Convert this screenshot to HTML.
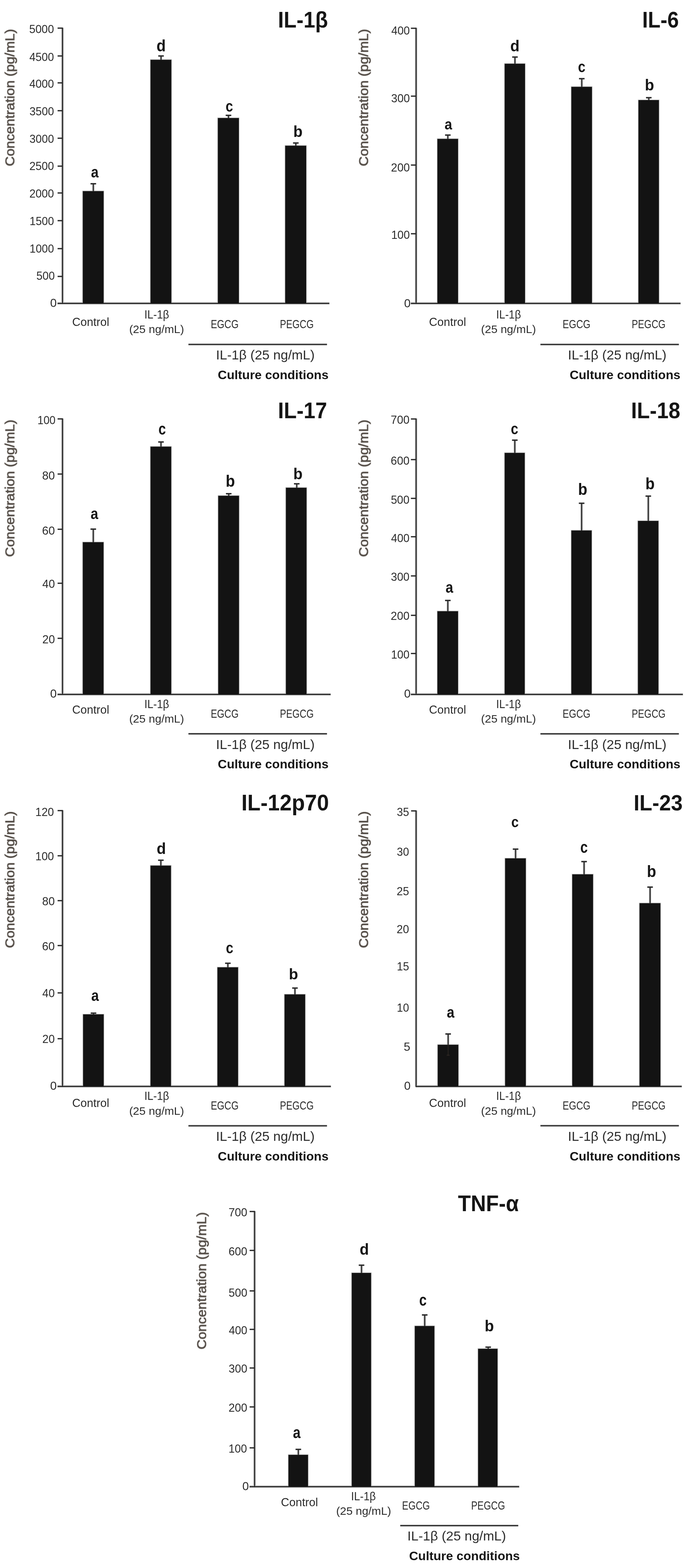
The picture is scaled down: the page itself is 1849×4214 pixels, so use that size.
<!DOCTYPE html>
<html lang="en">
<head>
<meta charset="utf-8">
<title>Cytokine concentrations</title>
<style>
html,body{margin:0;padding:0;background:#fff;}
body{width:1849px;height:4214px;overflow:hidden;}
svg{display:block;font-family:"Liberation Sans", sans-serif;}
.sh{filter:blur(0.5px);}
.tx{filter:blur(0.45px);}
text{white-space:pre;}
</style>
</head>
<body>
<svg width="1849" height="4214" viewBox="0 0 1849 4214">
<rect width="1849" height="4214" fill="#ffffff"/>
<g class="sh">
<rect x="165.15" y="74.60" width="5.70" height="741.50" fill="#989898"/>
<rect x="154.40" y="812.25" width="731.00" height="2.85" fill="#b4b4b4"/>
<rect x="154.40" y="815.10" width="731.00" height="2.65" fill="#6e6e6e"/>
<rect x="221.10" y="512.30" width="58.80" height="302.80" fill="#c2c2c2"/>
<rect x="247.95" y="493.80" width="5.70" height="19.50" fill="#989898"/>
<rect x="403.10" y="159.30" width="58.80" height="655.80" fill="#c2c2c2"/>
<rect x="429.95" y="150.40" width="5.70" height="9.90" fill="#989898"/>
<rect x="584.10" y="315.80" width="59.30" height="499.30" fill="#c2c2c2"/>
<rect x="611.20" y="310.00" width="5.70" height="6.80" fill="#989898"/>
<rect x="765.10" y="390.20" width="59.30" height="424.90" fill="#c2c2c2"/>
<rect x="792.20" y="384.30" width="5.70" height="6.90" fill="#989898"/>
<rect x="167.00" y="74.00" width="2.00" height="742.10" fill="#131313"/>
<rect x="154.80" y="814.10" width="730.10" height="2.00" fill="#131313"/>
<rect x="154.80" y="73.90" width="13.20" height="3.40" fill="#2a2a2a"/>
<rect x="154.80" y="148.70" width="13.20" height="3.40" fill="#2a2a2a"/>
<rect x="154.80" y="221.00" width="13.20" height="3.40" fill="#2a2a2a"/>
<rect x="154.80" y="295.80" width="13.20" height="3.40" fill="#2a2a2a"/>
<rect x="154.80" y="369.80" width="13.20" height="3.40" fill="#2a2a2a"/>
<rect x="154.80" y="444.80" width="13.20" height="3.40" fill="#2a2a2a"/>
<rect x="154.80" y="516.90" width="13.20" height="3.40" fill="#2a2a2a"/>
<rect x="154.80" y="591.30" width="13.20" height="3.40" fill="#2a2a2a"/>
<rect x="154.80" y="666.50" width="13.20" height="3.40" fill="#2a2a2a"/>
<rect x="154.80" y="741.20" width="13.20" height="3.40" fill="#2a2a2a"/>
<rect x="222.50" y="513.70" width="56.00" height="301.40" fill="#131313"/>
<rect x="249.80" y="493.80" width="2.00" height="20.50" fill="#131313"/>
<rect x="243.30" y="491.95" width="15.00" height="3.70" fill="#2a2a2a"/>
<rect x="404.50" y="160.70" width="56.00" height="654.40" fill="#131313"/>
<rect x="431.80" y="150.40" width="2.00" height="10.90" fill="#131313"/>
<rect x="425.30" y="148.55" width="15.00" height="3.70" fill="#2a2a2a"/>
<rect x="585.50" y="317.20" width="56.50" height="497.90" fill="#131313"/>
<rect x="613.05" y="310.00" width="2.00" height="7.80" fill="#131313"/>
<rect x="606.55" y="308.15" width="15.00" height="3.70" fill="#2a2a2a"/>
<rect x="766.50" y="391.60" width="56.50" height="423.50" fill="#131313"/>
<rect x="794.05" y="384.30" width="2.00" height="7.90" fill="#131313"/>
<rect x="787.55" y="382.45" width="15.00" height="3.70" fill="#2a2a2a"/>
<rect x="506.40" y="923.70" width="372.40" height="4.00" fill="#3a3a3a"/>
<rect x="1115.45" y="75.00" width="5.70" height="741.15" fill="#989898"/>
<rect x="1103.90" y="812.30" width="725.30" height="2.85" fill="#b4b4b4"/>
<rect x="1103.90" y="815.15" width="725.30" height="2.65" fill="#6e6e6e"/>
<rect x="1174.10" y="371.90" width="58.30" height="443.25" fill="#c2c2c2"/>
<rect x="1200.70" y="363.00" width="5.70" height="9.90" fill="#989898"/>
<rect x="1354.90" y="169.90" width="57.50" height="645.25" fill="#c2c2c2"/>
<rect x="1381.10" y="153.30" width="5.70" height="17.60" fill="#989898"/>
<rect x="1534.10" y="232.00" width="58.20" height="583.15" fill="#c2c2c2"/>
<rect x="1560.65" y="211.40" width="5.70" height="21.60" fill="#989898"/>
<rect x="1714.40" y="267.60" width="57.80" height="547.55" fill="#c2c2c2"/>
<rect x="1740.75" y="262.50" width="5.70" height="6.10" fill="#989898"/>
<rect x="1117.30" y="74.40" width="2.00" height="741.75" fill="#131313"/>
<rect x="1104.30" y="814.15" width="724.40" height="2.00" fill="#131313"/>
<rect x="1104.30" y="74.30" width="14.00" height="3.40" fill="#2a2a2a"/>
<rect x="1104.30" y="256.70" width="14.00" height="3.40" fill="#2a2a2a"/>
<rect x="1104.30" y="441.90" width="14.00" height="3.40" fill="#2a2a2a"/>
<rect x="1104.30" y="626.50" width="14.00" height="3.40" fill="#2a2a2a"/>
<rect x="1175.50" y="373.30" width="55.50" height="441.85" fill="#131313"/>
<rect x="1202.55" y="363.00" width="2.00" height="10.90" fill="#131313"/>
<rect x="1196.05" y="361.15" width="15.00" height="3.70" fill="#2a2a2a"/>
<rect x="1356.30" y="171.30" width="54.70" height="643.85" fill="#131313"/>
<rect x="1382.95" y="153.30" width="2.00" height="18.60" fill="#131313"/>
<rect x="1376.45" y="151.45" width="15.00" height="3.70" fill="#2a2a2a"/>
<rect x="1535.50" y="233.40" width="55.40" height="581.75" fill="#131313"/>
<rect x="1562.50" y="211.40" width="2.00" height="22.60" fill="#131313"/>
<rect x="1556.00" y="209.55" width="15.00" height="3.70" fill="#2a2a2a"/>
<rect x="1715.80" y="269.00" width="55.00" height="546.15" fill="#131313"/>
<rect x="1742.60" y="262.50" width="2.00" height="7.10" fill="#131313"/>
<rect x="1736.10" y="260.65" width="15.00" height="3.70" fill="#2a2a2a"/>
<rect x="1452.40" y="923.80" width="372.10" height="4.00" fill="#3a3a3a"/>
<rect x="165.15" y="1124.80" width="5.70" height="742.20" fill="#989898"/>
<rect x="154.40" y="1863.15" width="734.40" height="2.85" fill="#b4b4b4"/>
<rect x="154.40" y="1866.00" width="734.40" height="2.65" fill="#6e6e6e"/>
<rect x="221.10" y="1455.80" width="58.60" height="410.20" fill="#c2c2c2"/>
<rect x="247.85" y="1422.00" width="5.70" height="34.80" fill="#989898"/>
<rect x="403.10" y="1199.00" width="58.50" height="667.00" fill="#c2c2c2"/>
<rect x="429.80" y="1187.80" width="5.70" height="12.20" fill="#989898"/>
<rect x="585.10" y="1331.00" width="58.60" height="535.00" fill="#c2c2c2"/>
<rect x="611.85" y="1326.80" width="5.70" height="5.20" fill="#989898"/>
<rect x="767.00" y="1309.40" width="58.20" height="556.60" fill="#c2c2c2"/>
<rect x="794.65" y="1300.20" width="5.70" height="10.20" fill="#989898"/>
<rect x="167.00" y="1124.20" width="2.00" height="742.80" fill="#131313"/>
<rect x="154.80" y="1865.00" width="733.50" height="2.00" fill="#131313"/>
<rect x="154.80" y="1124.10" width="13.20" height="3.40" fill="#2a2a2a"/>
<rect x="154.80" y="1272.30" width="13.20" height="3.40" fill="#2a2a2a"/>
<rect x="154.80" y="1420.70" width="13.20" height="3.40" fill="#2a2a2a"/>
<rect x="154.80" y="1565.80" width="13.20" height="3.40" fill="#2a2a2a"/>
<rect x="154.80" y="1713.80" width="13.20" height="3.40" fill="#2a2a2a"/>
<rect x="222.50" y="1457.20" width="55.80" height="408.80" fill="#131313"/>
<rect x="249.70" y="1422.00" width="2.00" height="35.80" fill="#131313"/>
<rect x="243.20" y="1420.15" width="15.00" height="3.70" fill="#2a2a2a"/>
<rect x="404.50" y="1200.40" width="55.70" height="665.60" fill="#131313"/>
<rect x="431.65" y="1187.80" width="2.00" height="13.20" fill="#131313"/>
<rect x="425.15" y="1185.95" width="15.00" height="3.70" fill="#2a2a2a"/>
<rect x="586.50" y="1332.40" width="55.80" height="533.60" fill="#131313"/>
<rect x="613.70" y="1326.80" width="2.00" height="6.20" fill="#131313"/>
<rect x="607.20" y="1324.95" width="15.00" height="3.70" fill="#2a2a2a"/>
<rect x="768.40" y="1310.80" width="55.40" height="555.20" fill="#131313"/>
<rect x="796.50" y="1300.20" width="2.00" height="11.20" fill="#131313"/>
<rect x="790.00" y="1298.35" width="15.00" height="3.70" fill="#2a2a2a"/>
<rect x="506.40" y="1970.10" width="372.40" height="4.00" fill="#3a3a3a"/>
<rect x="1115.45" y="1125.00" width="5.70" height="742.00" fill="#989898"/>
<rect x="1103.90" y="1863.15" width="731.60" height="2.85" fill="#b4b4b4"/>
<rect x="1103.90" y="1866.00" width="731.60" height="2.65" fill="#6e6e6e"/>
<rect x="1174.10" y="1641.30" width="58.30" height="224.70" fill="#c2c2c2"/>
<rect x="1200.70" y="1613.70" width="5.70" height="28.60" fill="#989898"/>
<rect x="1354.90" y="1215.80" width="56.70" height="650.20" fill="#c2c2c2"/>
<rect x="1380.70" y="1182.90" width="5.70" height="33.90" fill="#989898"/>
<rect x="1534.10" y="1424.30" width="57.40" height="441.70" fill="#c2c2c2"/>
<rect x="1560.25" y="1352.50" width="5.70" height="72.80" fill="#989898"/>
<rect x="1713.10" y="1398.60" width="57.80" height="467.40" fill="#c2c2c2"/>
<rect x="1739.45" y="1333.30" width="5.70" height="66.30" fill="#989898"/>
<rect x="1117.30" y="1124.40" width="2.00" height="742.60" fill="#131313"/>
<rect x="1104.30" y="1865.00" width="730.70" height="2.00" fill="#131313"/>
<rect x="1104.30" y="1124.30" width="14.00" height="3.40" fill="#2a2a2a"/>
<rect x="1104.30" y="1233.50" width="14.00" height="3.40" fill="#2a2a2a"/>
<rect x="1104.30" y="1337.70" width="14.00" height="3.40" fill="#2a2a2a"/>
<rect x="1104.30" y="1440.80" width="14.00" height="3.40" fill="#2a2a2a"/>
<rect x="1104.30" y="1546.10" width="14.00" height="3.40" fill="#2a2a2a"/>
<rect x="1104.30" y="1652.00" width="14.00" height="3.40" fill="#2a2a2a"/>
<rect x="1104.30" y="1754.60" width="14.00" height="3.40" fill="#2a2a2a"/>
<rect x="1175.50" y="1642.70" width="55.50" height="223.30" fill="#131313"/>
<rect x="1202.55" y="1613.70" width="2.00" height="29.60" fill="#131313"/>
<rect x="1196.05" y="1611.85" width="15.00" height="3.70" fill="#2a2a2a"/>
<rect x="1356.30" y="1217.20" width="53.90" height="648.80" fill="#131313"/>
<rect x="1382.55" y="1182.90" width="2.00" height="34.90" fill="#131313"/>
<rect x="1376.05" y="1181.05" width="15.00" height="3.70" fill="#2a2a2a"/>
<rect x="1535.50" y="1425.70" width="54.60" height="440.30" fill="#131313"/>
<rect x="1562.10" y="1352.50" width="2.00" height="73.80" fill="#131313"/>
<rect x="1555.60" y="1350.65" width="15.00" height="3.70" fill="#2a2a2a"/>
<rect x="1714.50" y="1400.00" width="55.00" height="466.00" fill="#131313"/>
<rect x="1741.30" y="1333.30" width="2.00" height="67.30" fill="#131313"/>
<rect x="1734.80" y="1331.45" width="15.00" height="3.70" fill="#2a2a2a"/>
<rect x="1452.40" y="1970.20" width="372.10" height="4.00" fill="#3a3a3a"/>
<rect x="165.15" y="2177.50" width="5.70" height="743.00" fill="#989898"/>
<rect x="154.40" y="2916.65" width="735.10" height="2.85" fill="#b4b4b4"/>
<rect x="154.40" y="2919.50" width="735.10" height="2.65" fill="#6e6e6e"/>
<rect x="221.90" y="2724.70" width="58.20" height="194.80" fill="#c2c2c2"/>
<rect x="248.45" y="2722.80" width="5.70" height="2.90" fill="#989898"/>
<rect x="403.10" y="2325.00" width="57.80" height="594.50" fill="#c2c2c2"/>
<rect x="429.45" y="2311.80" width="5.70" height="14.20" fill="#989898"/>
<rect x="583.00" y="2598.30" width="58.20" height="321.20" fill="#c2c2c2"/>
<rect x="609.55" y="2588.70" width="5.70" height="10.60" fill="#989898"/>
<rect x="763.30" y="2671.10" width="58.20" height="248.40" fill="#c2c2c2"/>
<rect x="789.85" y="2655.40" width="5.70" height="16.70" fill="#989898"/>
<rect x="167.00" y="2176.90" width="2.00" height="743.60" fill="#131313"/>
<rect x="154.80" y="2918.50" width="734.20" height="2.00" fill="#131313"/>
<rect x="154.80" y="2176.80" width="13.20" height="3.40" fill="#2a2a2a"/>
<rect x="154.80" y="2298.20" width="13.20" height="3.40" fill="#2a2a2a"/>
<rect x="154.80" y="2418.80" width="13.20" height="3.40" fill="#2a2a2a"/>
<rect x="154.80" y="2539.50" width="13.20" height="3.40" fill="#2a2a2a"/>
<rect x="154.80" y="2666.70" width="13.20" height="3.40" fill="#2a2a2a"/>
<rect x="154.80" y="2789.80" width="13.20" height="3.40" fill="#2a2a2a"/>
<rect x="223.30" y="2726.10" width="55.40" height="193.40" fill="#131313"/>
<rect x="250.30" y="2722.80" width="2.00" height="3.90" fill="#131313"/>
<rect x="243.80" y="2720.95" width="15.00" height="3.70" fill="#2a2a2a"/>
<rect x="404.50" y="2326.40" width="55.00" height="593.10" fill="#131313"/>
<rect x="431.30" y="2311.80" width="2.00" height="15.20" fill="#131313"/>
<rect x="424.80" y="2309.95" width="15.00" height="3.70" fill="#2a2a2a"/>
<rect x="584.40" y="2599.70" width="55.40" height="319.80" fill="#131313"/>
<rect x="611.40" y="2588.70" width="2.00" height="11.60" fill="#131313"/>
<rect x="604.90" y="2586.85" width="15.00" height="3.70" fill="#2a2a2a"/>
<rect x="764.70" y="2672.50" width="55.40" height="247.00" fill="#131313"/>
<rect x="791.70" y="2655.40" width="2.00" height="17.70" fill="#131313"/>
<rect x="785.20" y="2653.55" width="15.00" height="3.70" fill="#2a2a2a"/>
<rect x="506.40" y="3023.60" width="372.40" height="4.00" fill="#3a3a3a"/>
<rect x="1115.45" y="2178.30" width="5.70" height="742.20" fill="#989898"/>
<rect x="1116.90" y="2916.65" width="715.60" height="2.85" fill="#b4b4b4"/>
<rect x="1116.90" y="2919.50" width="715.60" height="2.65" fill="#6e6e6e"/>
<rect x="1175.00" y="2806.40" width="58.20" height="113.10" fill="#c2c2c2"/>
<rect x="1201.55" y="2778.80" width="5.70" height="28.60" fill="#989898"/>
<rect x="1356.10" y="2305.50" width="58.40" height="614.00" fill="#c2c2c2"/>
<rect x="1382.75" y="2282.00" width="5.70" height="24.50" fill="#989898"/>
<rect x="1536.50" y="2348.40" width="58.70" height="571.10" fill="#c2c2c2"/>
<rect x="1566.90" y="2315.50" width="5.70" height="33.90" fill="#989898"/>
<rect x="1717.30" y="2426.00" width="59.00" height="493.50" fill="#c2c2c2"/>
<rect x="1744.25" y="2384.10" width="5.70" height="42.90" fill="#989898"/>
<rect x="1117.30" y="2177.70" width="2.00" height="742.80" fill="#131313"/>
<rect x="1117.30" y="2918.50" width="714.70" height="2.00" fill="#131313"/>
<rect x="1104.80" y="2177.60" width="13.50" height="3.40" fill="#2a2a2a"/>
<rect x="1176.40" y="2807.80" width="55.40" height="111.70" fill="#131313"/>
<rect x="1203.40" y="2778.80" width="2.00" height="29.60" fill="#131313"/>
<rect x="1196.90" y="2776.95" width="15.00" height="3.70" fill="#2a2a2a"/>
<rect x="1357.50" y="2306.90" width="55.60" height="612.60" fill="#131313"/>
<rect x="1384.60" y="2282.00" width="2.00" height="25.50" fill="#131313"/>
<rect x="1378.10" y="2280.15" width="15.00" height="3.70" fill="#2a2a2a"/>
<rect x="1537.90" y="2349.80" width="55.90" height="569.70" fill="#131313"/>
<rect x="1568.75" y="2315.50" width="2.00" height="34.90" fill="#131313"/>
<rect x="1562.25" y="2313.65" width="15.00" height="3.70" fill="#2a2a2a"/>
<rect x="1718.70" y="2427.40" width="56.20" height="492.10" fill="#131313"/>
<rect x="1746.10" y="2384.10" width="2.00" height="43.90" fill="#131313"/>
<rect x="1739.60" y="2382.25" width="15.00" height="3.70" fill="#2a2a2a"/>
<rect x="1203.4" y="2807" width="2" height="29" fill="#2c2622"/>
<rect x="1200.6" y="2834.6" width="7.6" height="2.6" fill="#2c2622"/>
<rect x="1452.40" y="3023.40" width="372.10" height="4.00" fill="#3a3a3a"/>
<rect x="681.35" y="3254.90" width="5.70" height="741.30" fill="#989898"/>
<rect x="670.50" y="3992.35" width="725.00" height="2.85" fill="#b4b4b4"/>
<rect x="670.50" y="3995.20" width="725.00" height="2.65" fill="#6e6e6e"/>
<rect x="773.80" y="3908.50" width="55.40" height="86.70" fill="#c2c2c2"/>
<rect x="798.95" y="3895.20" width="5.70" height="14.30" fill="#989898"/>
<rect x="943.90" y="3419.60" width="54.80" height="575.60" fill="#c2c2c2"/>
<rect x="968.75" y="3400.20" width="5.70" height="20.40" fill="#989898"/>
<rect x="1113.40" y="3562.30" width="55.40" height="432.90" fill="#c2c2c2"/>
<rect x="1138.55" y="3533.90" width="5.70" height="29.40" fill="#989898"/>
<rect x="1283.50" y="3623.50" width="55.00" height="371.70" fill="#c2c2c2"/>
<rect x="1309.15" y="3620.40" width="5.70" height="4.10" fill="#989898"/>
<rect x="683.20" y="3254.30" width="2.00" height="741.90" fill="#131313"/>
<rect x="670.90" y="3994.20" width="724.10" height="2.00" fill="#131313"/>
<rect x="670.90" y="3254.20" width="13.30" height="3.40" fill="#2a2a2a"/>
<rect x="670.90" y="3358.80" width="13.30" height="3.40" fill="#2a2a2a"/>
<rect x="670.90" y="3467.60" width="13.30" height="3.40" fill="#2a2a2a"/>
<rect x="670.90" y="3571.00" width="13.30" height="3.40" fill="#2a2a2a"/>
<rect x="670.90" y="3674.80" width="13.30" height="3.40" fill="#2a2a2a"/>
<rect x="670.90" y="3779.40" width="13.30" height="3.40" fill="#2a2a2a"/>
<rect x="670.90" y="3889.40" width="13.30" height="3.40" fill="#2a2a2a"/>
<rect x="775.20" y="3909.90" width="52.60" height="85.30" fill="#131313"/>
<rect x="800.80" y="3895.20" width="2.00" height="15.30" fill="#131313"/>
<rect x="794.30" y="3893.35" width="15.00" height="3.70" fill="#2a2a2a"/>
<rect x="945.30" y="3421.00" width="52.00" height="574.20" fill="#131313"/>
<rect x="970.60" y="3400.20" width="2.00" height="21.40" fill="#131313"/>
<rect x="964.10" y="3398.35" width="15.00" height="3.70" fill="#2a2a2a"/>
<rect x="1114.80" y="3563.70" width="52.60" height="431.50" fill="#131313"/>
<rect x="1140.40" y="3533.90" width="2.00" height="30.40" fill="#131313"/>
<rect x="1133.90" y="3532.05" width="15.00" height="3.70" fill="#2a2a2a"/>
<rect x="1284.90" y="3624.90" width="52.20" height="370.30" fill="#131313"/>
<rect x="1311.00" y="3620.40" width="2.00" height="5.10" fill="#131313"/>
<rect x="1304.50" y="3618.55" width="15.00" height="3.70" fill="#2a2a2a"/>
<rect x="1075.60" y="4098.10" width="317.20" height="4.00" fill="#3a3a3a"/>
</g>
<g class="tx">
<text transform="translate(78.50 89.20) scale(0.9342 1)" font-size="32.08" fill="#2c2c2c">5000</text>
<text transform="translate(79.02 163.60) scale(0.9268 1)" font-size="32.08" fill="#2c2c2c">4500</text>
<text transform="translate(79.02 236.30) scale(0.9268 1)" font-size="32.08" fill="#2c2c2c">4000</text>
<text transform="translate(79.37 310.00) scale(0.9217 1)" font-size="32.08" fill="#2c2c2c">3500</text>
<text transform="translate(79.37 383.60) scale(0.9217 1)" font-size="32.08" fill="#2c2c2c">3000</text>
<text transform="translate(79.00 457.10) scale(0.9270 1)" font-size="32.08" fill="#2c2c2c">2500</text>
<text transform="translate(79.00 531.30) scale(0.9270 1)" font-size="32.08" fill="#2c2c2c">2000</text>
<text transform="translate(79.55 604.90) scale(0.9192 1)" font-size="32.08" fill="#2c2c2c">1500</text>
<text transform="translate(79.55 679.10) scale(0.9192 1)" font-size="32.08" fill="#2c2c2c">1000</text>
<text transform="translate(97.71 752.10) scale(0.9238 1)" font-size="32.08" fill="#2c2c2c">500</text>
<text transform="translate(134.86 825.30) scale(0.9912 1)" font-size="32.08" fill="#2c2c2c">0</text>
<text transform="translate(244.42 476.90) scale(0.8600 1)" font-size="42.74" fill="#161616" font-weight="bold">a</text>
<text transform="translate(420.62 138.10) scale(0.9404 1)" font-size="43.47" fill="#161616" font-weight="bold">d</text>
<text transform="translate(606.19 300.30) scale(0.8553 1)" font-size="42.19" fill="#161616" font-weight="bold">c</text>
<text transform="translate(788.21 368.10) scale(0.9494 1)" font-size="43.06" fill="#161616" font-weight="bold">b</text>
<text transform="translate(746.93 74.40) scale(0.9289 1)" font-size="60.61" fill="#161616" font-weight="bold">IL-1β</text>
<text transform="translate(38.50 446.68) rotate(-90) scale(1.0587 1)" font-size="35.03" fill="#57504a" stroke="#57504a" stroke-width="1.1" stroke-linejoin="round">Concentration (pg/mL)</text>
<text transform="translate(194.03 876.00) scale(0.9810 1)" font-size="31.51" fill="#2c2c2c">Control</text>
<text transform="translate(387.92 856.10) scale(0.9407 1)" font-size="30.81" fill="#2c2c2c">IL-1β</text>
<text transform="translate(347.21 895.40) scale(1.0498 1)" font-size="29.07" fill="#2c2c2c">(25 ng/mL)</text>
<text transform="translate(566.42 882.10) scale(0.8319 1)" font-size="30.52" fill="#2c2c2c">EGCG</text>
<text transform="translate(752.13 882.10) scale(0.8249 1)" font-size="30.52" fill="#2c2c2c">PEGCG</text>
<text transform="translate(580.60 966.20) scale(1.0432 1)" font-size="34.30" fill="#2c2c2c">IL-1β (25 ng/mL)</text>
<text transform="translate(585.32 1018.60) scale(1.0056 1)" font-size="33.51" fill="#161616" font-weight="bold">Culture conditions</text>
<text transform="translate(1051.72 92.70) scale(0.9295 1)" font-size="32.08" fill="#2c2c2c">400</text>
<text transform="translate(1051.25 275.30) scale(0.9383 1)" font-size="32.08" fill="#2c2c2c">300</text>
<text transform="translate(1050.87 460.50) scale(0.9455 1)" font-size="32.08" fill="#2c2c2c">200</text>
<text transform="translate(1051.41 642.40) scale(0.9352 1)" font-size="32.08" fill="#2c2c2c">100</text>
<text transform="translate(1085.97 826.00) scale(0.9847 1)" font-size="32.08" fill="#2c2c2c">0</text>
<text transform="translate(1194.72 348.30) scale(0.9115 1)" font-size="40.33" fill="#161616" font-weight="bold">a</text>
<text transform="translate(1371.22 138.00) scale(0.9434 1)" font-size="43.33" fill="#161616" font-weight="bold">d</text>
<text transform="translate(1553.19 194.20) scale(0.8478 1)" font-size="42.56" fill="#161616" font-weight="bold">c</text>
<text transform="translate(1733.11 243.20) scale(0.9556 1)" font-size="42.78" fill="#161616" font-weight="bold">b</text>
<text transform="translate(1725.89 74.40) scale(0.9142 1)" font-size="60.61" fill="#161616" font-weight="bold">IL-6</text>
<text transform="translate(989.20 446.68) rotate(-90) scale(1.0587 1)" font-size="35.03" fill="#57504a" stroke="#57504a" stroke-width="1.1" stroke-linejoin="round">Concentration (pg/mL)</text>
<text transform="translate(1153.03 876.00) scale(0.9810 1)" font-size="31.51" fill="#2c2c2c">Control</text>
<text transform="translate(1333.52 856.10) scale(0.9407 1)" font-size="30.81" fill="#2c2c2c">IL-1β</text>
<text transform="translate(1292.81 895.40) scale(1.0498 1)" font-size="29.07" fill="#2c2c2c">(25 ng/mL)</text>
<text transform="translate(1512.02 882.10) scale(0.8319 1)" font-size="30.52" fill="#2c2c2c">EGCG</text>
<text transform="translate(1697.73 882.10) scale(0.8249 1)" font-size="30.52" fill="#2c2c2c">PEGCG</text>
<text transform="translate(1526.20 966.20) scale(1.0432 1)" font-size="34.30" fill="#2c2c2c">IL-1β (25 ng/mL)</text>
<text transform="translate(1530.92 1018.60) scale(1.0056 1)" font-size="33.51" fill="#161616" font-weight="bold">Culture conditions</text>
<text transform="translate(100.79 1140.40) scale(0.9031 1)" font-size="32.08" fill="#2c2c2c">100</text>
<text transform="translate(113.15 1288.80) scale(0.9656 1)" font-size="32.08" fill="#2c2c2c">80</text>
<text transform="translate(112.92 1437.40) scale(0.9725 1)" font-size="32.08" fill="#2c2c2c">60</text>
<text transform="translate(113.80 1580.20) scale(0.9468 1)" font-size="32.08" fill="#2c2c2c">40</text>
<text transform="translate(113.77 1728.60) scale(0.9477 1)" font-size="32.08" fill="#2c2c2c">20</text>
<text transform="translate(134.86 1875.20) scale(0.9912 1)" font-size="32.08" fill="#2c2c2c">0</text>
<text transform="translate(243.52 1395.40) scale(0.8675 1)" font-size="42.37" fill="#161616" font-weight="bold">a</text>
<text transform="translate(425.79 1168.10) scale(0.8192 1)" font-size="44.05" fill="#161616" font-weight="bold">c</text>
<text transform="translate(606.61 1308.40) scale(0.9315 1)" font-size="43.89" fill="#161616" font-weight="bold">b</text>
<text transform="translate(788.21 1287.80) scale(0.9587 1)" font-size="42.64" fill="#161616" font-weight="bold">b</text>
<text transform="translate(746.91 1124.40) scale(0.9343 1)" font-size="60.61" fill="#161616" font-weight="bold">IL-17</text>
<text transform="translate(38.50 1496.68) rotate(-90) scale(1.0587 1)" font-size="35.03" fill="#57504a" stroke="#57504a" stroke-width="1.1" stroke-linejoin="round">Concentration (pg/mL)</text>
<text transform="translate(194.03 1917.60) scale(0.9810 1)" font-size="31.51" fill="#2c2c2c">Control</text>
<text transform="translate(387.92 1902.70) scale(0.9407 1)" font-size="30.81" fill="#2c2c2c">IL-1β</text>
<text transform="translate(347.21 1941.80) scale(1.0498 1)" font-size="29.07" fill="#2c2c2c">(25 ng/mL)</text>
<text transform="translate(566.42 1928.50) scale(0.8319 1)" font-size="30.52" fill="#2c2c2c">EGCG</text>
<text transform="translate(752.13 1928.50) scale(0.8249 1)" font-size="30.52" fill="#2c2c2c">PEGCG</text>
<text transform="translate(580.60 2012.80) scale(1.0432 1)" font-size="34.30" fill="#2c2c2c">IL-1β (25 ng/mL)</text>
<text transform="translate(585.32 2065.40) scale(1.0056 1)" font-size="33.51" fill="#161616" font-weight="bold">Culture conditions</text>
<text transform="translate(1050.05 1139.00) scale(0.9442 1)" font-size="32.08" fill="#2c2c2c">700</text>
<text transform="translate(1050.06 1248.80) scale(0.9439 1)" font-size="32.08" fill="#2c2c2c">600</text>
<text transform="translate(1050.40 1354.30) scale(0.9375 1)" font-size="32.08" fill="#2c2c2c">500</text>
<text transform="translate(1050.92 1456.50) scale(0.9275 1)" font-size="32.08" fill="#2c2c2c">400</text>
<text transform="translate(1050.46 1561.00) scale(0.9363 1)" font-size="32.08" fill="#2c2c2c">300</text>
<text transform="translate(1050.08 1666.10) scale(0.9436 1)" font-size="32.08" fill="#2c2c2c">200</text>
<text transform="translate(1050.93 1769.50) scale(0.9272 1)" font-size="32.08" fill="#2c2c2c">100</text>
<text transform="translate(1085.97 1875.20) scale(0.9847 1)" font-size="32.08" fill="#2c2c2c">0</text>
<text transform="translate(1197.52 1592.80) scale(0.8637 1)" font-size="42.56" fill="#161616" font-weight="bold">a</text>
<text transform="translate(1372.79 1167.30) scale(0.8478 1)" font-size="42.56" fill="#161616" font-weight="bold">c</text>
<text transform="translate(1553.61 1329.80) scale(0.9200 1)" font-size="44.44" fill="#161616" font-weight="bold">b</text>
<text transform="translate(1734.41 1314.50) scale(0.9286 1)" font-size="44.02" fill="#161616" font-weight="bold">b</text>
<text transform="translate(1696.01 1124.40) scale(0.9347 1)" font-size="60.61" fill="#161616" font-weight="bold">IL-18</text>
<text transform="translate(989.20 1496.68) rotate(-90) scale(1.0587 1)" font-size="35.03" fill="#57504a" stroke="#57504a" stroke-width="1.1" stroke-linejoin="round">Concentration (pg/mL)</text>
<text transform="translate(1153.03 1917.60) scale(0.9810 1)" font-size="31.51" fill="#2c2c2c">Control</text>
<text transform="translate(1333.52 1902.70) scale(0.9407 1)" font-size="30.81" fill="#2c2c2c">IL-1β</text>
<text transform="translate(1292.81 1941.80) scale(1.0498 1)" font-size="29.07" fill="#2c2c2c">(25 ng/mL)</text>
<text transform="translate(1512.02 1928.50) scale(0.8319 1)" font-size="30.52" fill="#2c2c2c">EGCG</text>
<text transform="translate(1697.73 1928.50) scale(0.8249 1)" font-size="30.52" fill="#2c2c2c">PEGCG</text>
<text transform="translate(1526.20 2012.80) scale(1.0432 1)" font-size="34.30" fill="#2c2c2c">IL-1β (25 ng/mL)</text>
<text transform="translate(1530.92 2065.40) scale(1.0056 1)" font-size="33.51" fill="#161616" font-weight="bold">Culture conditions</text>
<text transform="translate(95.01 2193.30) scale(0.9352 1)" font-size="32.08" fill="#2c2c2c">120</text>
<text transform="translate(95.01 2312.30) scale(0.9352 1)" font-size="32.08" fill="#2c2c2c">100</text>
<text transform="translate(113.17 2432.70) scale(0.9535 1)" font-size="32.08" fill="#2c2c2c">80</text>
<text transform="translate(112.94 2553.60) scale(0.9603 1)" font-size="32.08" fill="#2c2c2c">60</text>
<text transform="translate(113.81 2680.40) scale(0.9349 1)" font-size="32.08" fill="#2c2c2c">40</text>
<text transform="translate(113.79 2803.40) scale(0.9355 1)" font-size="32.08" fill="#2c2c2c">20</text>
<text transform="translate(134.86 2928.90) scale(0.9912 1)" font-size="32.08" fill="#2c2c2c">0</text>
<text transform="translate(245.22 2689.70) scale(0.8791 1)" font-size="41.81" fill="#161616" font-weight="bold">a</text>
<text transform="translate(421.12 2295.00) scale(0.9681 1)" font-size="42.23" fill="#161616" font-weight="bold">d</text>
<text transform="translate(606.99 2562.10) scale(0.8515 1)" font-size="42.37" fill="#161616" font-weight="bold">c</text>
<text transform="translate(776.31 2631.60) scale(0.9940 1)" font-size="41.13" fill="#161616" font-weight="bold">b</text>
<text transform="translate(648.72 2177.70) scale(0.9563 1)" font-size="60.61" fill="#161616" font-weight="bold">IL-12p70</text>
<text transform="translate(38.50 2547.88) rotate(-90) scale(1.0552 1)" font-size="35.03" fill="#57504a" stroke="#57504a" stroke-width="1.1" stroke-linejoin="round">Concentration (pg/mL)</text>
<text transform="translate(194.03 2974.60) scale(0.9810 1)" font-size="31.51" fill="#2c2c2c">Control</text>
<text transform="translate(387.92 2956.40) scale(0.9407 1)" font-size="30.81" fill="#2c2c2c">IL-1β</text>
<text transform="translate(347.21 2995.60) scale(1.0498 1)" font-size="29.07" fill="#2c2c2c">(25 ng/mL)</text>
<text transform="translate(566.42 2982.10) scale(0.8319 1)" font-size="30.52" fill="#2c2c2c">EGCG</text>
<text transform="translate(752.13 2982.10) scale(0.8249 1)" font-size="30.52" fill="#2c2c2c">PEGCG</text>
<text transform="translate(580.60 3066.20) scale(1.0432 1)" font-size="34.30" fill="#2c2c2c">IL-1β (25 ng/mL)</text>
<text transform="translate(585.32 3118.60) scale(1.0056 1)" font-size="33.51" fill="#161616" font-weight="bold">Culture conditions</text>
<text transform="translate(1066.47 2193.30) scale(0.9241 1)" font-size="32.08" fill="#2c2c2c">35</text>
<text transform="translate(1066.47 2300.40) scale(0.9215 1)" font-size="32.08" fill="#2c2c2c">30</text>
<text transform="translate(1066.09 2405.50) scale(0.9351 1)" font-size="32.08" fill="#2c2c2c">25</text>
<text transform="translate(1066.10 2507.70) scale(0.9324 1)" font-size="32.08" fill="#2c2c2c">20</text>
<text transform="translate(1066.55 2607.60) scale(0.9218 1)" font-size="32.08" fill="#2c2c2c">15</text>
<text transform="translate(1066.55 2718.80) scale(0.9191 1)" font-size="32.08" fill="#2c2c2c">10</text>
<text transform="translate(1085.12 2823.90) scale(0.9928 1)" font-size="32.08" fill="#2c2c2c">5</text>
<text transform="translate(1085.97 2929.30) scale(0.9847 1)" font-size="32.08" fill="#2c2c2c">0</text>
<text transform="translate(1200.72 2735.10) scale(0.8637 1)" font-size="42.56" fill="#161616" font-weight="bold">a</text>
<text transform="translate(1373.99 2223.40) scale(0.8988 1)" font-size="40.14" fill="#161616" font-weight="bold">c</text>
<text transform="translate(1559.39 2291.80) scale(0.8157 1)" font-size="44.23" fill="#161616" font-weight="bold">c</text>
<text transform="translate(1738.51 2357.10) scale(0.9315 1)" font-size="43.89" fill="#161616" font-weight="bold">b</text>
<text transform="translate(1702.92 2177.70) scale(0.9493 1)" font-size="59.45" fill="#161616" font-weight="bold">IL-23</text>
<text transform="translate(989.20 2547.88) rotate(-90) scale(1.0552 1)" font-size="35.03" fill="#57504a" stroke="#57504a" stroke-width="1.1" stroke-linejoin="round">Concentration (pg/mL)</text>
<text transform="translate(1153.03 2974.60) scale(0.9810 1)" font-size="31.51" fill="#2c2c2c">Control</text>
<text transform="translate(1333.52 2956.40) scale(0.9407 1)" font-size="30.81" fill="#2c2c2c">IL-1β</text>
<text transform="translate(1292.81 2995.60) scale(1.0498 1)" font-size="29.07" fill="#2c2c2c">(25 ng/mL)</text>
<text transform="translate(1512.02 2982.10) scale(0.8319 1)" font-size="30.52" fill="#2c2c2c">EGCG</text>
<text transform="translate(1697.73 2982.10) scale(0.8249 1)" font-size="30.52" fill="#2c2c2c">PEGCG</text>
<text transform="translate(1526.20 3066.20) scale(1.0432 1)" font-size="34.30" fill="#2c2c2c">IL-1β (25 ng/mL)</text>
<text transform="translate(1530.92 3118.60) scale(1.0056 1)" font-size="33.51" fill="#161616" font-weight="bold">Culture conditions</text>
<text transform="translate(614.15 3269.00) scale(0.9442 1)" font-size="32.08" fill="#2c2c2c">700</text>
<text transform="translate(614.16 3373.90) scale(0.9439 1)" font-size="32.08" fill="#2c2c2c">600</text>
<text transform="translate(614.50 3484.50) scale(0.9375 1)" font-size="32.08" fill="#2c2c2c">500</text>
<text transform="translate(615.02 3585.70) scale(0.9275 1)" font-size="32.08" fill="#2c2c2c">400</text>
<text transform="translate(614.56 3689.00) scale(0.9363 1)" font-size="32.08" fill="#2c2c2c">300</text>
<text transform="translate(614.18 3793.90) scale(0.9436 1)" font-size="32.08" fill="#2c2c2c">200</text>
<text transform="translate(614.23 3904.30) scale(0.9272 1)" font-size="32.08" fill="#2c2c2c">100</text>
<text transform="translate(651.27 4005.40) scale(0.9847 1)" font-size="32.08" fill="#2c2c2c">0</text>
<text transform="translate(787.32 3864.50) scale(0.8346 1)" font-size="44.05" fill="#161616" font-weight="bold">a</text>
<text transform="translate(966.42 3371.90) scale(0.9681 1)" font-size="42.23" fill="#161616" font-weight="bold">d</text>
<text transform="translate(1126.39 3508.80) scale(0.8227 1)" font-size="43.86" fill="#161616" font-weight="bold">c</text>
<text transform="translate(1302.61 3578.40) scale(0.9681 1)" font-size="42.23" fill="#161616" font-weight="bold">b</text>
<text transform="translate(1230.66 3254.60) scale(0.9330 1)" font-size="60.61" fill="#161616" font-weight="bold">TNF-α</text>
<text transform="translate(553.90 3626.48) rotate(-90) scale(1.0587 1)" font-size="35.03" fill="#57504a" stroke="#57504a" stroke-width="1.1" stroke-linejoin="round">Concentration (pg/mL)</text>
<text transform="translate(755.03 4048.20) scale(0.9810 1)" font-size="31.51" fill="#2c2c2c">Control</text>
<text transform="translate(943.42 4031.60) scale(0.9407 1)" font-size="30.81" fill="#2c2c2c">IL-1β</text>
<text transform="translate(903.51 4070.60) scale(1.0506 1)" font-size="29.07" fill="#2c2c2c">(25 ng/mL)</text>
<text transform="translate(1080.62 4056.50) scale(0.8319 1)" font-size="30.52" fill="#2c2c2c">EGCG</text>
<text transform="translate(1266.33 4056.50) scale(0.8249 1)" font-size="30.52" fill="#2c2c2c">PEGCG</text>
<text transform="translate(1094.80 4140.40) scale(1.0432 1)" font-size="34.30" fill="#2c2c2c">IL-1β (25 ng/mL)</text>
<text transform="translate(1099.52 4192.60) scale(1.0056 1)" font-size="33.51" fill="#161616" font-weight="bold">Culture conditions</text>
</g>
</svg>
</body>
</html>
